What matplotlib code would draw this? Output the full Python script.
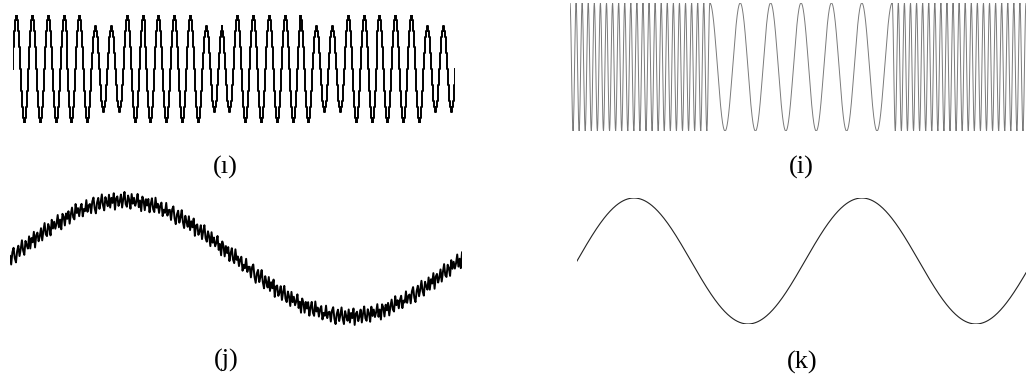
import numpy as np
import matplotlib.pyplot as plt

W, H = 1026, 381

# (ı) quantised sine: peak amplitude of each cycle
h_amp = [1, 1, 1, 1, 1, 0.78, 0.78,
         1, 1, 1, 1, 1, 0.78, 0.78,
         1, 1, 1, 1, 1, 0.78, 0.78,
         1, 1, 1, 1, 1, 0.78, 0.78]
h_steps = 16      # samples per cycle
h_levels = 10     # quantisation levels per unit amplitude

# (i) fast / slow / fast: cycles in each segment and period length
i_cycles = [23, 6, 22]
i_period = [1, 5, 1]

# (j) one noisy sine cycle
j_cycles = 1.0
j_jitter = [0.3, -0.8, 0.5, 0.9, -0.4, -1.0, 0.2, 0.7, -0.6, 0.1, 1.0, -0.3,
            -0.9, 0.6, 0.0, -0.5, 0.8, -0.7, 0.4, -0.2, 0.9, -1.0, 0.3, 0.5,
            -0.6, -0.1, 0.7, -0.8, 0.2, 1.0, -0.4, -0.7, 0.6, 0.1, -0.9, 0.8,
            -0.3, 0.4, -0.5, 0.0, 0.9, -0.6, 0.2, -1.0, 0.7, 0.3, -0.8, 0.5,
            -0.2, 0.6, -0.9, 0.1, 0.8, -0.4, -0.7, 1.0, -0.1, 0.4, -0.6, 0.3,
            0.7, -0.8, 0.0, -0.3, 0.9, -0.5, 0.2]
j_scale = 0.15

# (k) clean sine
k_cycles = 1.97

labels = ['(ı)', '(i)', '(j)', '(k)']
label_xy = [(225, 167), (801, 167), (226, 360), (802, 362)]


def px_axes(fig, x0, y0, x1, y1):
    ax = fig.add_axes([x0 / W, 1 - y1 / H, (x1 - x0) / W, (y1 - y0) / H])
    ax.set_axis_off()
    return ax


fig = plt.figure(figsize=(W / 100, H / 100), dpi=100)

# (ı)
ax = px_axes(fig, 12.7, 15, 455, 123)
t = np.arange(len(h_amp) * h_steps + 1) / h_steps
amp = np.array(h_amp)[np.minimum(t.astype(int), len(h_amp) - 1)]
y = np.round(amp * np.sin(2 * np.pi * t) * h_levels) / h_levels
ax.plot(t, y, color='black', lw=1.4, drawstyle='steps-mid')
ax.set_xlim(0, len(h_amp))
ax.set_ylim(-1, 1)

# (i)
ax = px_axes(fig, 570, 3, 1026, 131)
us, ph = [], []
u0, p0 = 0.0, 0.0
for c, p in zip(i_cycles, i_period):
    u = np.linspace(0, c * p, c * p * 40, endpoint=False)
    us.append(u0 + u)
    ph.append(p0 + u / p)
    u0 += c * p
    p0 += c
us.append([u0])
ph.append([p0])
u = np.concatenate(us)
ax.plot(u, np.cos(2 * np.pi * np.concatenate(ph)), color='#7a7a7a', lw=0.7)
ax.set_xlim(0, u0)
ax.set_ylim(-1, 1)

# (j)
ax = px_axes(fig, 10, 189, 462, 328)
n = 380
t = np.linspace(0, j_cycles, n)
y = np.sin(2 * np.pi * t) + j_scale * np.resize(j_jitter, n)
ax.plot(t, y, color='black', lw=1.4)
ax.set_xlim(0, j_cycles)
ax.set_ylim(-1.2, 1.2)

# (k)
ax = px_axes(fig, 577, 198, 1026, 324)
t = np.linspace(0, k_cycles, 600)
ax.plot(t, np.sin(2 * np.pi * t), color='#222222', lw=0.8)
ax.set_xlim(0, k_cycles)
ax.set_ylim(-1, 1)

for s, (x, yy) in zip(labels, label_xy):
    fig.text(x / W, 1 - yy / H, s, ha='center', va='center',
             family=['Liberation Serif', 'DejaVu Serif'], fontsize=19)

fig.savefig('out.png', dpi=100)
